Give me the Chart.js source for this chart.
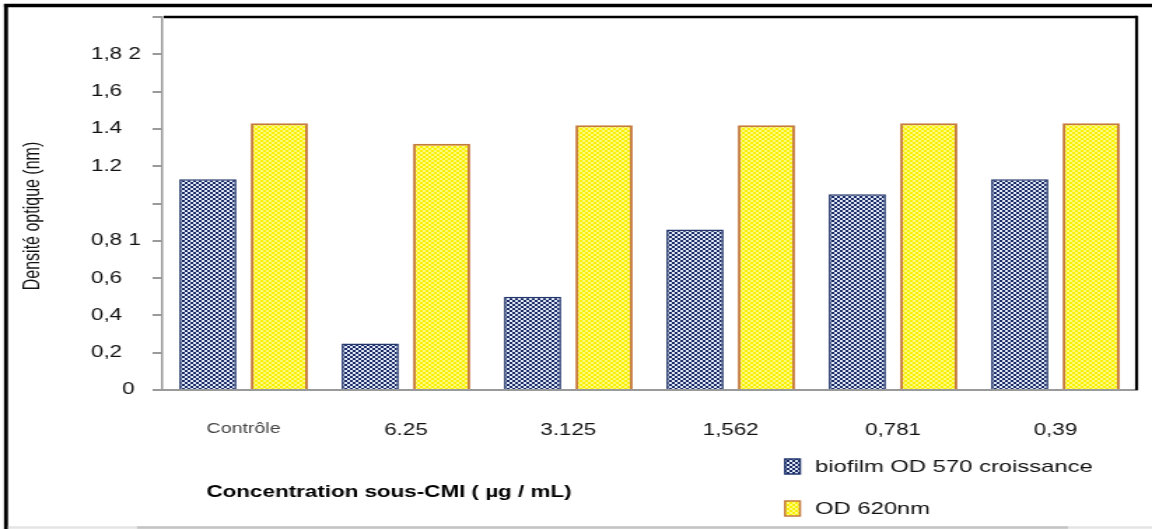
<!DOCTYPE html>
<html>
<head>
<meta charset="utf-8">
<script src="https://cdn.jsdelivr.net/npm/chart.js@4"></script>
<style>
  html, body { margin:0; padding:0; background:#fff; overflow:hidden; }
  #wrap { width:1152px; height:529px; position:relative; overflow:hidden; }
  /* the scanned figure is stretched sideways, so the canvas is too */
  #chart { position:absolute; left:0; top:0; transform-origin:0 0; transform:scaleX(1.39976); }
</style>
</head>
<body>
<div id="wrap"><canvas id="chart" width="823" height="529"></canvas></div>
<script>
// data
const categories  = ['Contrôle', '6.25', '3.125', '1,562', '0,781', '0,39'];
const biofilm570  = [1.13, 0.25, 0.50, 0.86, 1.05, 1.13];
const od620       = [1.43, 1.32, 1.42, 1.42, 1.43, 1.43];
const seriesNames = ['biofilm OD 570 croissance', 'OD 620nm'];
const yTickLabels = ['     0', '0,2', '0,4', '0,6', '0,8 1', '', '1.2', '1.4', '1,6', '1,8 2', ''];
const yTitle = 'Densité optique (nm)';
const xTitle = 'Concentration sous-CMI ( µg / mL)';

const S = 1152 / 823;          // horizontal stretch
const X = (v) => v / S;        // picture x -> canvas x
const FONT = '"Liberation Sans", Arial, sans-serif';

const cv = document.getElementById('chart');
const ctx = cv.getContext('2d');

function checker(bg, fg, w, h){
  const c = document.createElement('canvas');
  c.width = w; c.height = h;
  const g = c.getContext('2d');
  g.fillStyle = bg; g.fillRect(0, 0, w, h);
  g.fillStyle = fg;
  g.fillRect(0, 0, w/2, h/2);
  g.fillRect(w/2, h/2, w/2, h/2);
  return ctx.createPattern(c, 'repeat');
}
const bluePat   = checker('#1a2b66', '#e2e9f6', 4, 4);
const yellowPat = checker('#f8f000', '#fffa80', 4, 4);

const decor = {
  id: 'decor',
  afterDraw(chart){
    const c = chart.ctx, a = chart.chartArea;
    c.save();
    // outer frame of the scan
    c.strokeStyle = '#000';
    c.lineWidth = 3.5;
    c.beginPath(); c.moveTo(X(4), 5.5); c.lineTo(823, 5.5); c.stroke();
    c.lineWidth = X(4);
    c.beginPath(); c.moveTo(X(6), 4); c.lineTo(X(6), 529); c.stroke();
    // bottom grey edge
    c.lineWidth = 2.5;
    c.strokeStyle = '#e4e4e4';
    c.beginPath(); c.moveTo(X(8), 527.5); c.lineTo(823, 527.5); c.stroke();
    c.strokeStyle = '#c4c4c4';
    c.beginPath(); c.moveTo(X(137), 527.5); c.lineTo(X(1068), 527.5); c.stroke();
    // plot frame top and right
    c.strokeStyle = '#000';
    c.lineWidth = 2.5;
    c.beginPath(); c.moveTo(a.left + 1, a.top); c.lineTo(a.right, a.top); c.stroke();
    c.lineWidth = X(3);
    c.beginPath(); c.moveTo(a.right, a.top - 1.2); c.lineTo(a.right, a.bottom); c.stroke();

    // y title
    c.fillStyle = '#111';
    c.font = '16px ' + FONT;
    c.textAlign = 'center';
    c.textBaseline = 'middle';
    c.save();
    c.translate(X(33), 216);
    c.rotate(-Math.PI / 2);
    c.fillText(yTitle, 0, 0);
    c.restore();

    // x title
    c.font = 'bold 16px ' + FONT;
    c.fillStyle = '#000';
    c.fillText(xTitle, X(389), 493);

    // legend
    const ds = chart.data.datasets;
    const rows = [467, 509];
    c.textAlign = 'left';
    c.font = '17px ' + FONT;
    ds.forEach((d, i) => {
      const y = rows[i];
      c.fillStyle = d.backgroundColor;
      c.fillRect(X(785), y - 8, X(15), 15);
      c.strokeStyle = d.borderColor;
      c.lineWidth = 1.5;
      c.strokeRect(X(785), y - 8, X(15), 15);
      c.fillStyle = '#111';
      c.fillText(d.label, X(815), y);
    });
    c.restore();
  }
};

new Chart(cv, {
  type: 'bar',
  data: {
    labels: categories,
    datasets: [
      { label: seriesNames[0], data: biofilm570, backgroundColor: bluePat,
        borderColor: '#22366c', borderWidth: 1.6 },
      { label: seriesNames[1], data: od620, backgroundColor: yellowPat,
        borderColor: '#c57a3d', borderWidth: 2 }
    ]
  },
  options: {
    responsive: false,
    animation: false,
    categoryPercentage: 0.88,
    barPercentage: 0.8,
    layout: { padding: { left: 65, top: 17, right: 11, bottom: 0 } },
    plugins: { legend: { display: false }, tooltip: { enabled: false } },
    scales: {
      x: {
        afterFit: (s) => { s.height = 139; },
        grid: { display: false, drawTicks: false },
        border: { display: true, color: '#9a9a9a', width: 2 },
        ticks: {
          padding: 31,
          color: (c) => c.index === 0 ? '#444' : '#111',
          font: (c) => c.index === 0 ? { family: FONT, size: 14 } : { family: FONT, size: 16 }
        }
      },
      y: {
        min: 0, max: 2,
        afterFit: (s) => { s.width = 51; },
        grid: { drawOnChartArea: false, tickLength: 7, color: '#9a9a9a', lineWidth: 2 },
        border: { display: true, color: '#9a9a9a', width: 1.5 },
        ticks: {
          stepSize: 0.2,
          crossAlign: 'far',
          color: '#111',
          font: { family: FONT, size: 16 },
          callback: (v, i) => yTickLabels[i]
        }
      }
    }
  },
  plugins: [decor]
});
</script>
</body>
</html>
